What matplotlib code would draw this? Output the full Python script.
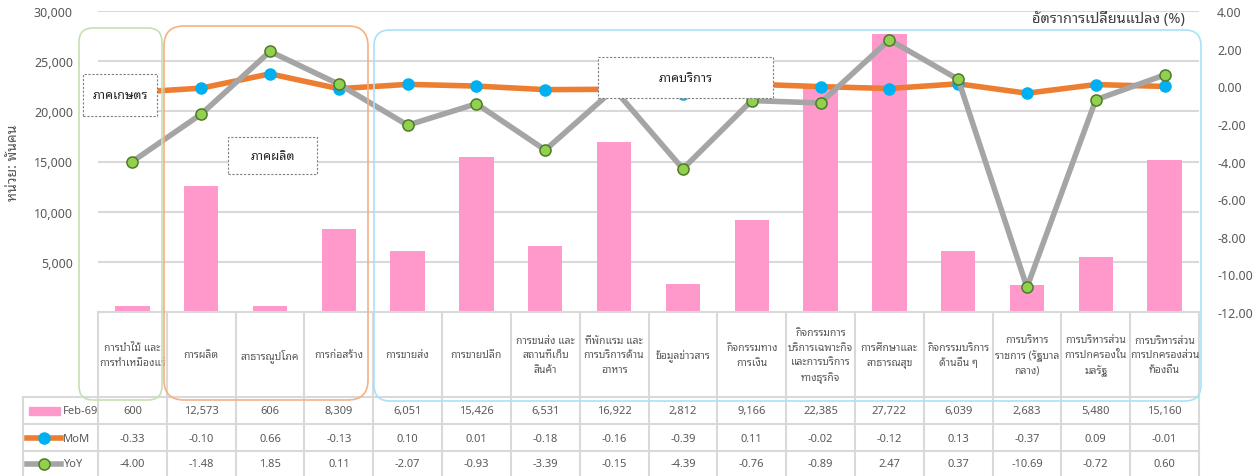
import matplotlib
matplotlib.use("Agg")
import matplotlib.pyplot as plt
from matplotlib import font_manager
from matplotlib.ft2font import FT2Font
from matplotlib.patches import FancyBboxPatch, Rectangle
from matplotlib.lines import Line2D
import matplotlib.transforms as mtransforms
import numpy as np

# ---------------- data ----------------
categories = [
    "การป่าไม้ และ\nการทำเหมืองแร่", "การผลิต", "สาธารณูปโภค", "การก่อสร้าง",
    "การขายส่ง", "การขายปลีก", "การขนส่ง และ\nสถานที่เก็บ\nสินค้า",
    "ที่พักแรม และ\nการบริการด้าน\nอาหาร", "ข้อมูลข่าวสาร", "กิจกรรมทาง\nการเงิน",
    "กิจกรรมการ\nบริการเฉพาะกิจ\nและการบริการ\nทางธุรกิจ", "การศึกษาและ\nสาธารณสุข",
    "กิจกรรมบริการ\nด้านอื่น ๆ", "การบริหาร\nราชการ (รัฐบาล\nกลาง)",
    "การบริหารส่วน\nการปกครองใน\nมลรัฐ", "การบริหารส่วน\nการปกครองส่วน\nท้องถิ่น",
]
feb69 = [600, 12573, 606, 8309, 6051, 15426, 6531, 16922, 2812, 9166, 22385,
         27722, 6039, 2683, 5480, 15160]
mom = [-0.33, -0.10, 0.66, -0.13, 0.10, 0.01, -0.18, -0.16, -0.39, 0.11, -0.02,
       -0.12, 0.13, -0.37, 0.09, -0.01]
yoy = [-4.00, -1.48, 1.85, 0.11, -2.07, -0.93, -3.39, -0.15, -4.39, -0.76, -0.89,
       2.47, 0.37, -10.69, -0.72, 0.60]
left_ticks = [5000, 10000, 15000, 20000, 25000, 30000]
right_ticks = [4, 2, 0, -2, -4, -6, -8, -10, -12]
series_names = ["Feb-69", "MoM", "YoY"]
sector_labels = ["ภาคเกษตร", "ภาคผลิต", "ภาคบริการ"]

# ---------------- font ----------------
def thai_fonts():
    names = set()
    for f in font_manager.fontManager.ttflist:
        try:
            cm = FT2Font(f.fname).get_charmap()
            if 0x0E01 in cm and 0x0E32 in cm:
                names.add(f.name)
        except Exception:
            pass
    return names

avail = thai_fonts()
thai_font = None
for p in ["Tahoma", "Leelawadee UI", "Noto Sans Thai Looped", "Loma",
          "IBM Plex Sans Thai Looped", "Noto Sans Thai"]:
    if p in avail:
        thai_font = p
        break
if thai_font is None and avail:
    thai_font = sorted(avail)[0]
FAM = ([thai_font] if thai_font else []) + ["DejaVu Sans"]
plt.rcParams["font.family"] = FAM

W, H = 1260, 477
fig = plt.figure(figsize=(W / 100, H / 100), dpi=100)

def fx(x):
    return x / W

def fy(y):
    return 1 - y / H

GRAY = "#595959"
GRID = "#d9d9d9"
PINK = "#FF99CC"
ORANGE = "#ED7D31"
BLUE = "#00B0F0"
LGRAY = "#A5A5A5"
GREEN = "#92D050"
DKGREEN = "#4F7A28"

L, R, T, B = 98, 1199, 12, 313
ax = fig.add_axes([fx(L), fy(B), (R - L) / W, (B - T) / H])
n = len(categories)
x = np.arange(n)
ax.bar(x, feb69, width=0.5, color=PINK, zorder=2)
ax.set_xlim(-0.5, n - 0.5)
ax.set_ylim(0, 30000)
ax.set_yticks(left_ticks)
ax.set_yticklabels([f"{v:,}" for v in left_ticks], color=GRAY, fontsize=9)
ax.tick_params(axis="y", length=0, pad=18)
ax.set_xticks([])
for s in ax.spines.values():
    s.set_visible(False)
ax.yaxis.grid(True, color=GRID, lw=1.5, zorder=0)
ax.set_axisbelow(True)

ax2 = ax.twinx()
ax2.set_ylim(-12, 4)
ax2.set_yticks(right_ticks)
ax2.set_yticklabels([f"{v:.2f}" for v in right_ticks], color=GRAY, fontsize=9)
ax2.tick_params(axis="y", length=0, pad=13)
for s in ax2.spines.values():
    s.set_visible(False)
ax2.plot(x, mom, color=ORANGE, lw=4, marker="o", ms=8, mfc=BLUE, mec=BLUE,
         zorder=3)
ax2.plot(x, yoy, color=LGRAY, lw=4, marker="o", ms=8, mfc=GREEN, mec=DKGREEN,
         mew=1.1, zorder=4)

# axis titles
fig.text(fx(14), fy(163), "หน่วย: พันคน", rotation=90, ha="center", va="center",
         color=GRAY, fontsize=10, fontweight="bold")
fig.text(fx(1185), fy(20), "อัตราการเปลี่ยนแปลง (%)", ha="right", va="center",
         color="#404040", fontsize=10.5, fontweight="bold")

# ---------------- table ----------------
bt = mtransforms.blended_transform_factory(ax.transData, fig.transFigure)
tl = dict(color=GRID, lw=1.5, transform=fig.transFigure, zorder=1)
bounds = [i - 0.5 for i in range(n + 1)]
fig.add_artist(Line2D([fx(L), fx(R)], [fy(313), fy(313)], **tl))
for yy in (398, 425, 452):
    fig.add_artist(Line2D([fx(23), fx(R)], [fy(yy), fy(yy)], **tl))
fig.add_artist(Line2D([fx(23), fx(23)], [fy(398), fy(477)], **tl))
for b in bounds:
    fig.add_artist(Line2D([b, b], [fy(313), fy(477)], color=GRID, lw=1.5,
                          transform=bt, zorder=1))

row_y = [412, 439, 465]
for i in range(n):
    fig.text(x[i], fy(356), categories[i], transform=bt, ha="center", va="center",
             fontsize=7.5, color=GRAY, linespacing=1.45)
    fig.text(x[i], fy(row_y[0]), f"{feb69[i]:,}", transform=bt, ha="center",
             va="center", fontsize=8, color=GRAY)
    fig.text(x[i], fy(row_y[1]), f"{mom[i]:.2f}", transform=bt, ha="center",
             va="center", fontsize=8, color=GRAY)
    fig.text(x[i], fy(row_y[2]), f"{yoy[i]:.2f}", transform=bt, ha="center",
             va="center", fontsize=8, color=GRAY)

# legend keys in table
fig.add_artist(Rectangle((fx(29), fy(416)), fx(31), 8 / H, color=PINK,
                         transform=fig.transFigure))
fig.add_artist(Line2D([fx(27), fx(61)], [fy(439), fy(439)], color=ORANGE, lw=4,
                      transform=fig.transFigure))
fig.add_artist(Line2D([fx(44)], [fy(439)], marker="o", ms=8, mfc=BLUE, mec=BLUE,
                      transform=fig.transFigure))
fig.add_artist(Line2D([fx(27), fx(61)], [fy(465), fy(465)], color=LGRAY, lw=4,
                      transform=fig.transFigure))
fig.add_artist(Line2D([fx(44)], [fy(465)], marker="o", ms=8, mfc=GREEN,
                      mec=DKGREEN, mew=1.1, transform=fig.transFigure))
for name, yy in zip(series_names, row_y):
    fig.text(fx(63), fy(yy), name, ha="left", va="center", fontsize=8, color=GRAY)

# ---------------- sector group boxes ----------------
def rbox(x0, y0, x1, y1, color, r=16):
    p = FancyBboxPatch((fx(x0), fy(y1)), fx(x1 - x0), (y1 - y0) / H,
                       boxstyle=f"round,pad=0,rounding_size={r / W}",
                       transform=fig.transFigure, fill=False, ec=color, lw=1.2,
                       zorder=6, mutation_aspect=W / H)
    fig.add_artist(p)

rbox(79, 29, 162, 401, "#C5E0B4", 14)
rbox(164, 27, 368, 401, "#F4B183", 20)
rbox(374, 31, 1201, 402, "#A9E2F7", 16)

def tbox(x0, y0, x1, y1, label):
    p = Rectangle((fx(x0), fy(y1)), fx(x1 - x0), (y1 - y0) / H, fc="white",
                  ec="#7F7F7F", lw=0.8, ls=(0, (2, 1.5)), transform=fig.transFigure,
                  zorder=7)
    fig.add_artist(p)
    t = fig.text(fx((x0 + x1) / 2), fy((y0 + y1) / 2), label, ha="center",
                 va="center", fontsize=9, fontweight="bold", color="#262626")
    t.set_zorder(8)

tbox(83, 75, 157, 117, sector_labels[0])
tbox(228, 138, 317, 175, sector_labels[1])
tbox(598, 58, 773, 99, sector_labels[2])

fig.savefig("out.png", dpi=100)
